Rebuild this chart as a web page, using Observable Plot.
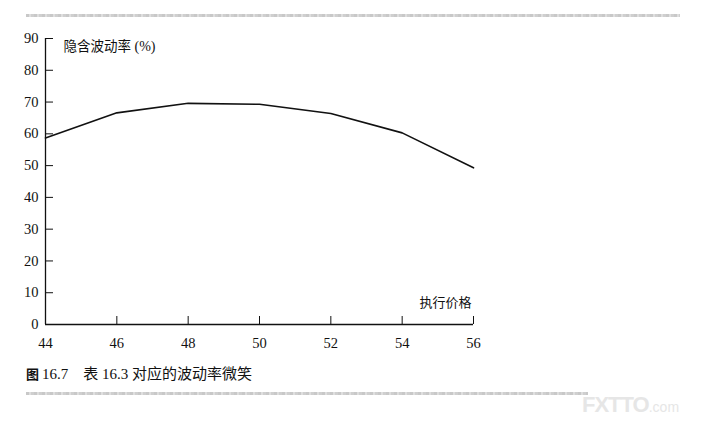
<!DOCTYPE html>
<html>
<head>
<meta charset="utf-8">
<script src="https://cdn.jsdelivr.net/npm/d3@7"></script>
<script src="https://cdn.jsdelivr.net/npm/@observablehq/plot@0.6"></script>
<style>
  html, body { margin: 0; padding: 0; background: #fff; width: 702px; height: 424px; overflow: hidden; }
  .rule { position: absolute; height: 3px; background: repeating-linear-gradient(90deg, #c8c8c8 0 3px, #dedede 3px 5px, #cfcfcf 5px 8px); }
  #chart { position: absolute; left: 0; top: 18px; }
  #caption { position: absolute; left: 26px; top: 362px; font-size: 15px; color: #111; font-family: "Liberation Serif", "Noto Sans CJK SC", serif; white-space: pre; }
  #caption b { font-family: "Noto Sans CJK SC", sans-serif; font-size: 13px; font-weight: 700; }
  #wm { position: absolute; left: 582px; top: 392px; font-family: "Liberation Sans", sans-serif; font-weight: 700; font-size: 22px; color: #e6e6e6; letter-spacing: -1px; }
  #wm span { font-size: 14px; font-weight: 400; letter-spacing: 0; }
</style>
</head>
<body>
<div class="rule" style="left:26px; width:654px; top:14px;"></div>
<div id="chart"></div>
<div id="caption"></div>
<div class="rule" style="left:26px; width:562px; top:392px;"></div>
<div id="wm">FXTTO<span>.com</span></div>
<script>
const strikes = [44, 46, 48, 50, 52, 54, 56];
const vols = [58.7, 66.6, 69.6, 69.3, 66.4, 60.3, 49.3];
const yTicks = [0, 10, 20, 30, 40, 50, 60, 70, 80, 90];
const xTicks = [44, 46, 48, 50, 52, 54, 56];
const yLabel = "隐含波动率";
const yUnit = "(%)";
const xLabel = "执行价格";
const captionText = "16.7　表 16.3 对应的波动率微笑";

const data = strikes.map((s, i) => ({strike: s, vol: vols[i]}));

const chart = Plot.plot({
  width: 702,
  height: 340,
  marginLeft: 45,
  marginRight: 229,
  marginTop: 20,
  marginBottom: 34,
  style: {fontFamily: "'Liberation Serif', serif", fontSize: "14px", color: "#111", background: "white"},
  x: {domain: [44, 56]},
  y: {domain: [0, 90]},
  marks: [
    Plot.axisY({ticks: yTicks, tickSize: -8, tickPadding: 15, label: null, stroke: "#111", fontSize: 14.5}),
    Plot.axisX({ticks: xTicks, tickSize: -8, tickPadding: 21, label: null, stroke: "#111", fontSize: 14.5}),
    Plot.ruleX([44], {stroke: "#111", strokeWidth: 1.3}),
    Plot.ruleY([0], {stroke: "#111", strokeWidth: 1.3}),
    Plot.line(data, {x: "strike", y: "vol", stroke: "#111", strokeWidth: 1.6}),
    Plot.text([yLabel], {frameAnchor: "top-left", dx: 18, dy: 3, textAnchor: "start", fontFamily: "'Noto Sans CJK SC', sans-serif", fontSize: 13.5, fill: "#111"}),
    Plot.text([yUnit], {frameAnchor: "top-left", dx: 89, dy: 3, textAnchor: "start", fontFamily: "'Liberation Serif', serif", fontSize: 14, fill: "#111"}),
    Plot.text([xLabel], {frameAnchor: "bottom-right", dx: -2, dy: -18, textAnchor: "end", fontFamily: "'Noto Sans CJK SC', sans-serif", fontSize: 13, fill: "#111"})
  ]
});
document.getElementById("chart").append(chart);
const cap = document.getElementById("caption");
const b = document.createElement("b");
b.textContent = "图 ";
cap.append(b, document.createTextNode(captionText));
</script>
</body>
</html>
